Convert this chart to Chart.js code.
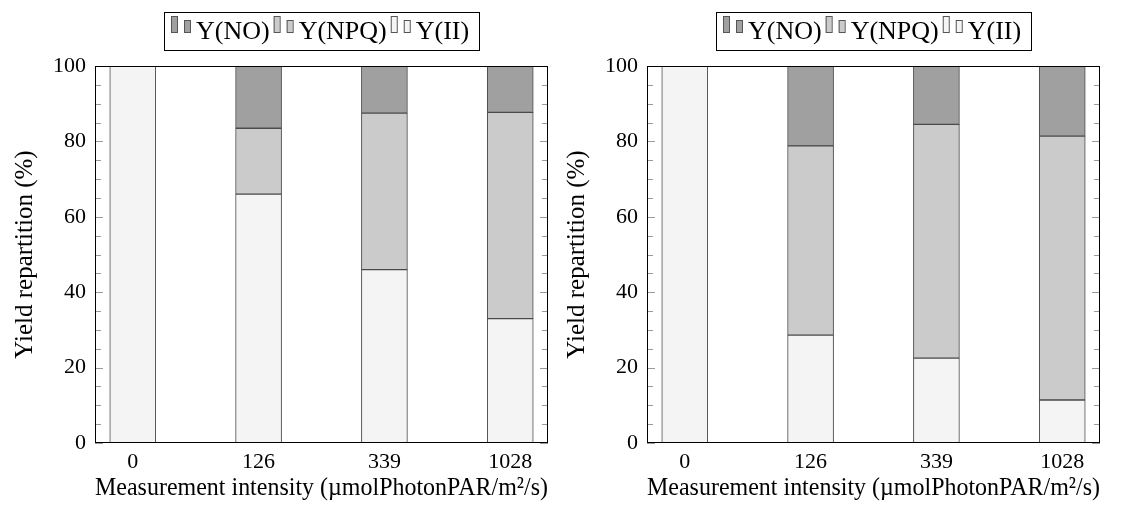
<!DOCTYPE html>
<html>
<head>
<meta charset="utf-8">
<script src="https://cdn.jsdelivr.net/npm/chart.js@4.4.1/dist/chart.umd.min.js"></script>
<style>
  html, body { margin: 0; padding: 0; background: #fff; width: 1125px; height: 506px; overflow: hidden; }
  canvas { position: absolute; top: 0; }
  #chartLeft { left: 0; }
  #chartRight { left: 552px; }
</style>
</head>
<body>
<canvas id="chartLeft" width="573" height="506"></canvas>
<canvas id="chartRight" width="573" height="506"></canvas>
<script>
// categories (measurement intensity)
const categories = ['0', '126', '339', '1028'];
const seriesNames = ['Y(II)', 'Y(NPQ)', 'Y(NO)'];
const seriesColors = ['#f4f4f4', '#cbcbcb', '#a0a0a0'];

// left panel (%)
const leftYII = [100, 66, 46, 33];
const leftNPQ = [0, 17.5, 41.5, 54.7];
const leftNO  = [0, 16.5, 12.5, 12.3];

// right panel (%)
const rightYII = [100, 28.6, 22.5, 11.4];
const rightNPQ = [0, 50.2, 62, 70];
const rightNO  = [0, 21.2, 15.5, 18.6];

const yTickStep = 20;
const yMinorStep = 5;

Chart.defaults.font.family = '"Liberation Serif", "Times New Roman", serif';
Chart.defaults.color = '#000';

// box + inward tick marks, pgfplots style
const framePlugin = {
  id: 'frame',
  afterDatasetsDraw(chart) {
    const { ctx, chartArea: a, scales: { y } } = chart;
    ctx.save();
    ctx.lineWidth = 1;
    ctx.strokeStyle = '#9a9a9a';
    for (let v = y.min; v <= y.max; v += yMinorStep) {
      const py = Math.round(y.getPixelForValue(v)) + 0.5;
      const len = v % yTickStep === 0 ? 8 : 6;
      ctx.beginPath();
      ctx.moveTo(a.left, py); ctx.lineTo(a.left + len, py);
      ctx.moveTo(a.right, py); ctx.lineTo(a.right - len, py);
      ctx.stroke();
    }
    ctx.strokeStyle = '#000';
    ctx.strokeRect(a.left + 0.5, a.top + 0.5, a.right - a.left - 1, a.bottom - a.top - 1);
    ctx.restore();
  }
};

// boxed legend with two small bars per entry
const boxLegend = {
  id: 'boxLegend',
  afterDraw(chart) {
    const { ctx, chartArea: a } = chart;
    const ds = chart.data.datasets.slice().reverse();
    ctx.save();
    ctx.font = '26px "Liberation Serif", serif';
    const sw = 20, gapS = 5, gapI = 4, padL = 7, padR = 10;
    let total = padL + padR;
    ds.forEach((d, i) => { total += sw + gapS + ctx.measureText(d.label).width + (i ? gapI : 0); });
    let x = Math.round((a.left + a.right) / 2 - total / 2);
    const top = 12, h = 38;
    ctx.lineWidth = 1;
    ctx.strokeStyle = '#000';
    ctx.strokeRect(x + 0.5, top + 0.5, Math.round(total), h);
    x += padL;
    ds.forEach((d, i) => {
      if (i) x += gapI;
      ctx.fillStyle = d.backgroundColor;
      ctx.strokeStyle = '#555';
      ctx.fillRect(x, 16, 6, 16);
      ctx.strokeRect(x + 0.5, 16.5, 6, 16);
      ctx.fillRect(x + 13, 20, 6, 12);
      ctx.strokeRect(x + 13.5, 20.5, 6, 12);
      x += sw + gapS;
      ctx.fillStyle = '#000';
      ctx.textBaseline = 'alphabetic';
      ctx.fillText(d.label, x, 39);
      x += ctx.measureText(d.label).width;
    });
    ctx.restore();
  }
};

function makeChart(id, yii, npq, no) {
  const series = [yii, npq, no];
  return new Chart(document.getElementById(id), {
    type: 'bar',
    data: {
      datasets: series.map((vals, s) => ({
        label: seriesNames[s],
        data: categories.map((c, i) => ({ x: i, y: vals[i] })),
        backgroundColor: seriesColors[s],
        borderColor: '#4a4a4a',
        borderWidth: 1,
        borderSkipped: false,
        barThickness: 46
      }))
    },
    options: {
      responsive: false,
      animation: false,
      layout: { padding: { left: 0, top: 66, right: 25, bottom: 0 } },
      plugins: { legend: { display: false }, tooltip: { enabled: false } },
      scales: {
        x: {
          type: 'linear',
          stacked: true,
          offset: false,
          min: -0.3,
          max: 3.3,
          grid: { display: false, drawTicks: false },
          border: { display: false },
          ticks: {
            stepSize: 1,
            includeBounds: false,
            padding: 6,
            font: { size: 22 },
            callback: v => categories[v]
          },
          title: {
            display: true,
            text: 'Measurement intensity (µmolPhotonPAR/m²/s)',
            font: { size: 26 },
            padding: { top: 0, bottom: 2 }
          },
          afterFit: s => { s.height = 63; }
        },
        y: {
          stacked: true,
          min: 0,
          max: 100,
          grid: { display: false, drawTicks: false },
          border: { display: false },
          ticks: { stepSize: yTickStep, padding: 9, font: { size: 22 } },
          title: {
            display: true,
            text: 'Yield repartition (%)',
            font: { size: 25 },
            padding: { top: 10, bottom: 0 }
          },
          afterFit: s => { s.width = 95; }
        }
      }
    },
    plugins: [framePlugin, boxLegend]
  });
}

makeChart('chartLeft', leftYII, leftNPQ, leftNO);
makeChart('chartRight', rightYII, rightNPQ, rightNO);
</script>
</body>
</html>
